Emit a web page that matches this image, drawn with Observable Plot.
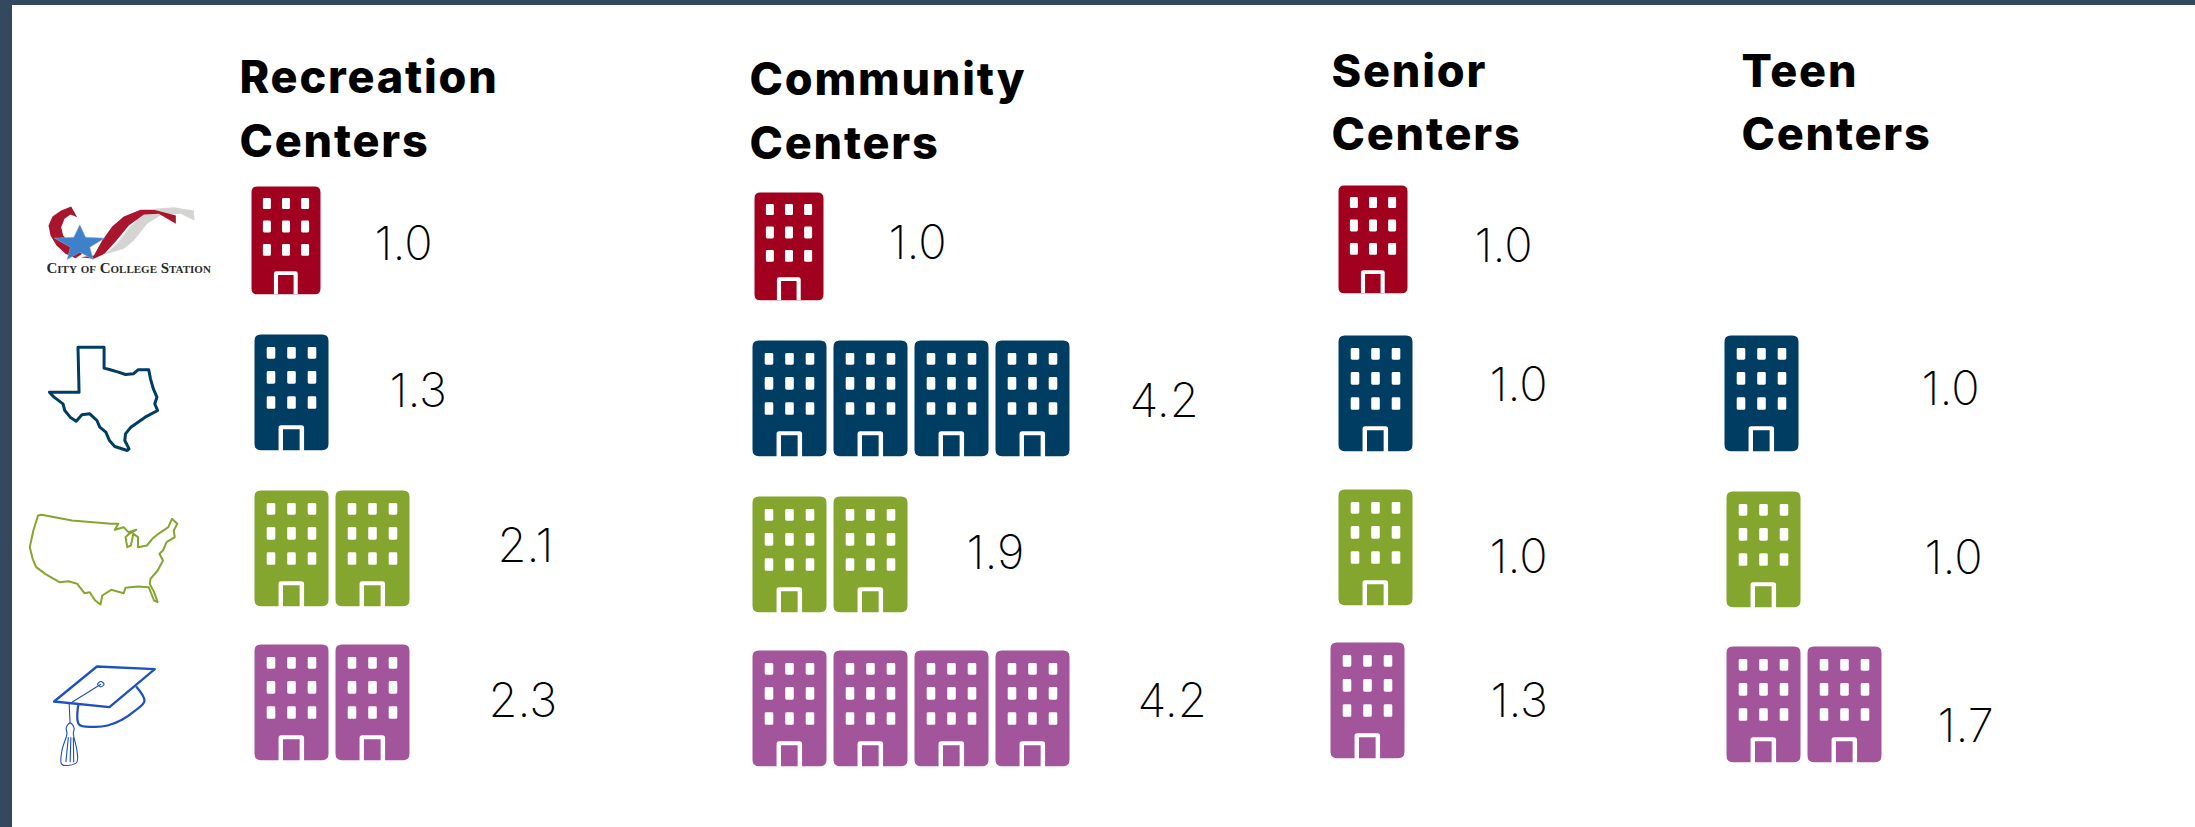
<!DOCTYPE html>
<html>
<head>
<meta charset="utf-8">
<script src="https://cdn.jsdelivr.net/npm/d3@7"></script>
<script src="https://cdn.jsdelivr.net/npm/@observablehq/plot@0.6"></script>
<style>
  html, body { margin: 0; padding: 0; background: #fff; overflow: hidden; }
  #chart { position: relative; width: 2195px; height: 827px; }
  #chart svg { display: block; max-width: none; }
  #frame { position: absolute; left: 0; top: 0; width: 2195px; height: 827px; box-sizing: border-box;
           border-left: 12px solid #34495e; border-top: 5px solid #34495e; pointer-events: none; }
  g[font-size="45"] { letter-spacing: 1.8px; }
</style>
</head>
<body>
<div id="chart"><div id="frame"></div></div>
<script>
// ---- values ----
const places = ["City of College Station", "Texas", "United States", "Universities"];
const placeColors = ["#a1001e", "#003d62", "#84a62f", "#a2559b"];
const centerTypes = ["Recreation Centers", "Community Centers", "Senior Centers", "Teen Centers"];
const recreation = [1.0, 1.3, 2.1, 2.3];
const community = [1.0, 4.2, 1.9, 4.2];
const senior = [1.0, 1.0, 1.0, 1.3];
const teen = [null, 1.0, 1.0, 1.7];
const seriesByType = [recreation, community, senior, teen];

// ---- layout of the hand-placed infographic (pixel units of the x and y scales) ----
const iconLeft = [[251, 254, 254, 254], [754, 752, 752, 752], [1338, 1338, 1338, 1330], [null, 1724, 1726, 1726]];
const iconTop = [[186, 334, 490, 644], [192, 340, 496, 650], [185, 335, 489, 642], [null, 335, 491, 646]];
const labelLeft = [[374, 389, 497, 488], [888, 1129, 966, 1137], [1474, 1489, 1489, 1490], [null, 1921, 1924, 1937]];
const labelBase = [[259, 406, 561, 716], [258, 416, 568, 716], [261, 400, 572, 716], [null, 404, 573, 741]];
const headLeft = [239, 749, 1331, 1741];
const headBase = [[92, 156], [94, 158], [86, 149], [86, 149]];
const iconHalfWidth = [34.5, 37, 37, 37];
const iconPitch = 81;
const heightRatio = 1.563;

// ---- tables for the marks ----
const buildings = [], labels = [], headers = [];
seriesByType.forEach((series, c) => {
  centerTypes[c].split(" ").forEach((word, l) =>
    headers.push({word, x: headLeft[c], y: headBase[c][l]}));
  series.forEach((value, r) => {
    if (value == null) return;
    const hw = iconHalfWidth[r];
    for (let i = 0; i < Math.round(value); ++i) {
      buildings.push({place: places[r], r: hw,
        x: iconLeft[c][r] + hw + i * iconPitch,
        y: iconTop[c][r] + hw * heightRatio});
    }
    labels.push({text: value.toFixed(1), x: labelLeft[c][r], y: labelBase[c][r]});
  });
});

// building glyph as a custom symbol: size gives the half width
const building = {
  draw(ctx, size) {
    const w = 2 * Math.sqrt(size / Math.PI), h = w * heightRatio;
    const X = (t) => (t - 0.5) * w, Y = (t) => (t - 0.5) * h;
    const rr = 0.085 * w;
    // body, clockwise
    ctx.moveTo(X(0) + rr, Y(0));
    ctx.lineTo(X(1) - rr, Y(0)); ctx.quadraticCurveTo(X(1), Y(0), X(1), Y(0) + rr);
    ctx.lineTo(X(1), Y(1) - rr); ctx.quadraticCurveTo(X(1), Y(1), X(1) - rr, Y(1));
    ctx.lineTo(X(0) + rr, Y(1)); ctx.quadraticCurveTo(X(0), Y(1), X(0), Y(1) - rr);
    ctx.lineTo(X(0), Y(0) + rr); ctx.quadraticCurveTo(X(0), Y(0), X(0) + rr, Y(0));
    ctx.closePath();
    // windows, counter-clockwise so they stay empty
    const wr = 0.02 * w;
    for (const cx of [0.223, 0.5, 0.777]) for (const [t, b] of [[0.107, 0.209], [0.316, 0.426], [0.533, 0.643]]) {
      const l = X(cx - 0.058), rg = X(cx + 0.058), tp = Y(t), bt = Y(b);
      ctx.moveTo(l + wr, tp);
      ctx.quadraticCurveTo(l, tp, l, tp + wr);
      ctx.lineTo(l, bt - wr); ctx.quadraticCurveTo(l, bt, l + wr, bt);
      ctx.lineTo(rg - wr, bt); ctx.quadraticCurveTo(rg, bt, rg, bt - wr);
      ctx.lineTo(rg, tp + wr); ctx.quadraticCurveTo(rg, tp, rg - wr, tp);
      ctx.closePath();
    }
    // door frame, counter-clockwise
    const ol = X(0.325), orr = X(0.67), il = X(0.385), ir = X(0.61), ot = Y(0.785), it = Y(0.82), bt = Y(1.001), fr = 0.035 * w;
    ctx.moveTo(orr, bt);
    ctx.lineTo(orr, ot + fr); ctx.quadraticCurveTo(orr, ot, orr - fr, ot);
    ctx.lineTo(ol + fr, ot); ctx.quadraticCurveTo(ol, ot, ol, ot + fr);
    ctx.lineTo(ol, bt); ctx.lineTo(il, bt); ctx.lineTo(il, it); ctx.lineTo(ir, it); ctx.lineTo(ir, bt);
    ctx.closePath();
  }
};

// ---- decorative outlines; each symbol is drawn from a crop's corner ----
function outline(paths, sx, sy) {
  return {draw(ctx) {
    for (const {pts, curve} of paths) {
      d3.line().x((p) => p[0] / sx).y((p) => p[1] / sy).curve(curve || d3.curveLinear).context(ctx)(pts);
    }
  }};
}
const texasPts = [[217,1040],[290,1040],[290,1103],[305,1107],[330,1115],[350,1122],[372,1120],[385,1108],[415,1108],[420,1135],[428,1165],[438,1190],[432,1210],[440,1230],[405,1250],[365,1280],[350,1300],[348,1320],[360,1345],[355,1350],[320,1338],[305,1320],[295,1295],[278,1280],[270,1260],[250,1240],[228,1243],[212,1262],[195,1250],[180,1230],[175,1210],[150,1190],[137,1175],[220,1175]];
const usaPts = [[105,135],[115,133],[200,150],[310,160],[330,160],[320,178],[345,170],[358,185],[380,178],[360,190],[350,200],[355,230],[365,225],[372,190],[385,200],[385,230],[410,225],[425,205],[442,190],[470,170],[480,145],[495,160],[485,180],[488,200],[465,215],[455,240],[445,250],[455,270],[440,300],[420,325],[418,340],[430,365],[440,395],[430,390],[415,350],[385,348],[350,352],[345,368],[310,358],[285,375],[280,402],[265,390],[250,365],[235,368],[215,340],[190,332],[165,335],[125,310],[100,290],[90,265],[82,230],[92,180]];
const capTop = [[270,588],[432,596],[305,710],[150,693]];
const capBase = [[380,648],[403,692],[375,722],[340,748],[300,765],[260,769],[220,762],[218,700]];
const capCord = [[281,641],[200,695]];
const capHang = [[192,697],[195,760]];
const capButton = [[281,633],[290,641],[281,649],[272,641]];
const tassel = [[195,757],[206,772],[204,790],[214,840],[213,876],[172,882],[172,840],[186,790],[184,772]];
const tasselLines = [[[190,800],[183,875]], [[197,800],[195,875]], [[204,800],[205,875]]];

const logoCurl = [[122,48],[140,80],[120,72],[102,85],[92,110],[98,135],[122,160],[155,190],[135,203],[105,190],[78,165],[60,135],[54,105],[66,78],[92,60]];
const logoRibbon = [[150,200],[190,195],[215,150],[245,108],[280,78],[330,58],[370,58],[436,75],[436,100],[385,70],[340,72],[295,105],[258,150],[222,190],[190,205]];
const logoSilver = [[220,193],[255,165],[290,120],[330,75],[375,55],[430,50],[490,60],[492,90],[450,70],[390,75],[350,100],[310,150],[280,175]];
const logoStar = [[148,103],[165,140],[222,143],[178,170],[188,207],[148,185],[110,207],[120,170],[72,143],[130,140]];

const texas = outline([{pts: texasPts, curve: d3.curveLinearClosed}], 2.8, 3);
const usa = outline([{pts: usaPts, curve: d3.curveLinearClosed}], 2.8, 3);
const capMain = outline([
  {pts: capTop, curve: d3.curveLinearClosed},
  {pts: capBase, curve: d3.curveCatmullRom.alpha(0.5)}
], 2.8, 3);
const capFine = outline([
  {pts: capCord}, {pts: capHang},
  {pts: capButton, curve: d3.curveCatmullRomClosed},
  {pts: tassel, curve: d3.curveCatmullRomClosed},
  ...tasselLines.map((pts) => ({pts}))
], 2.8, 3);
const curl = outline([{pts: logoCurl, curve: d3.curveLinearClosed}], 3, 3);
const ribbon = outline([{pts: logoRibbon, curve: d3.curveLinearClosed}], 3, 3);
const silver = outline([{pts: logoSilver, curve: d3.curveLinearClosed}], 3, 3);
const star = outline([{pts: logoStar, curve: d3.curveLinearClosed}], 3, 3);

const cropTop = [{x: 0, y: 0}];        // Texas crop corner
const cropBottom = [{x: 0, y: 470}];   // USA and cap crop corner
const cropLogo = [{x: 30, y: 190}];    // logo crop corner
const anchor = {x: "x", y: "y", r: 10};

const plot = Plot.plot({
  width: 2195, height: 827,
  margin: 0,
  x: {domain: [0, 2195], range: [0, 2195], axis: null},
  y: {domain: [0, 827], range: [0, 827], axis: null},
  r: {type: "identity"},
  color: {domain: places, range: placeColors},
  style: {background: "white"},
  marks: [
    Plot.dot(buildings, {x: "x", y: "y", r: "r", fill: "place", symbol: building}),
    Plot.text(headers, {x: "x", y: "y", text: "word", textAnchor: "start", lineAnchor: "bottom",
      fontFamily: "Inter", fontWeight: 800, fontSize: 45, fill: "#000"}),
    Plot.text(labels, {x: "x", y: "y", text: "text", textAnchor: "start", lineAnchor: "bottom",
      fontFamily: "Inter", fontWeight: 250, fontSize: 47, fill: "#000"}),
    // row emblems
    Plot.dot(cropTop, {...anchor, symbol: texas, fill: "none", stroke: "#003d62", strokeWidth: 3, strokeLinejoin: "round"}),
    Plot.dot(cropBottom, {...anchor, symbol: usa, fill: "none", stroke: "#84a62f", strokeWidth: 2, strokeLinejoin: "round"}),
    Plot.dot(cropBottom, {...anchor, symbol: capMain, fill: "none", stroke: "#1f4fc4", strokeWidth: 2.3, strokeLinejoin: "round"}),
    Plot.dot(cropBottom, {...anchor, symbol: capFine, fill: "none", stroke: "#1f4fc4", strokeWidth: 1.1}),
    Plot.dot(cropLogo, {...anchor, symbol: silver, fill: "#d4d4d2", stroke: "none"}),
    Plot.dot(cropLogo, {...anchor, symbol: curl, fill: "#a8152c", stroke: "none"}),
    Plot.dot(cropLogo, {...anchor, symbol: ribbon, fill: "#a8152c", stroke: "none"}),
    Plot.dot(cropLogo, {...anchor, symbol: star, fill: "#3f80cb", stroke: "#8aa9d6", strokeWidth: 0.6}),
    Plot.text(["City of College Station"], {x: () => 46, y: () => 272, text: (d) => d, textAnchor: "start", lineAnchor: "bottom",
      fontFamily: "Liberation Serif", fontWeight: 700, fontVariant: "small-caps", fontSize: 15, fill: "#2b2b2b"})
  ]
});
document.getElementById("chart").prepend(plot);
</script>
</body>
</html>
